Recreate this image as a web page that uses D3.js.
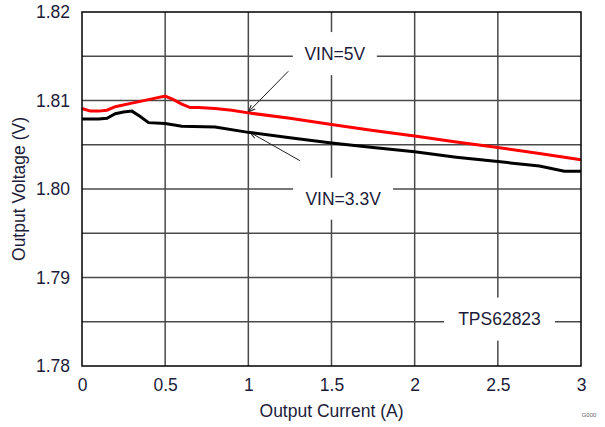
<!DOCTYPE html>
<html>
<head>
<meta charset="utf-8">
<script src="https://cdn.jsdelivr.net/npm/d3@7"></script>
<style>
  body { margin: 0; background: #fff; }
  text { font-family: "Liberation Sans", Arial, sans-serif; }
</style>
</head>
<body>
<div id="chart"></div>
<script>
// output current (A) and output voltage (V)
const currentRed = [0, 0.05, 0.1, 0.15, 0.2, 0.3, 0.4, 0.5, 0.55, 0.6, 0.65, 0.7, 0.8, 0.9, 1.0, 1.25, 1.5, 1.75, 2.0, 2.25, 2.5, 2.75, 3.0];
const vin5 = [1.8091, 1.8088, 1.8088, 1.8089, 1.8093, 1.8097, 1.8101, 1.8105, 1.8101, 1.8096, 1.8092, 1.8092, 1.8091, 1.8089, 1.8086, 1.8080, 1.8073, 1.8066, 1.8060, 1.8053, 1.8047, 1.8040, 1.8033];
const currentBlack = [0, 0.1, 0.15, 0.2, 0.25, 0.3, 0.35, 0.4, 0.5, 0.6, 0.8, 1.0, 1.25, 1.5, 1.75, 2.0, 2.25, 2.5, 2.75, 2.9, 3.0];
const vin33 = [1.8079, 1.8079, 1.8080, 1.8085, 1.8087, 1.8088, 1.8082, 1.8075, 1.8074, 1.8071, 1.8070, 1.8064, 1.8058, 1.8052, 1.8047, 1.8042, 1.8036, 1.8031, 1.8026, 1.8020, 1.8020];
const xTicks = [0, 0.5, 1, 1.5, 2, 2.5, 3];
const yTicks = [1.78, 1.79, 1.80, 1.81, 1.82];
const yGrid = [1.785, 1.79, 1.795, 1.80, 1.805, 1.81, 1.815];

const totalWidth = 605, totalHeight = 427;
const margin = {top: 12, right: 24, bottom: 61, left: 82};
const width = totalWidth - margin.left - margin.right,
      height = totalHeight - margin.top - margin.bottom;

const svg = d3.select('#chart').append('svg')
    .attr('width', totalWidth)
    .attr('height', totalHeight);
const g = svg.append('g')
    .attr('transform', `translate(${margin.left},${margin.top})`);

const x = d3.scaleLinear().domain([0, 3]).range([0, width]);
const y = d3.scaleLinear().domain([1.78, 1.82]).range([height, 0]);

// grid
g.append('g').selectAll('line.vg')
    .data(xTicks.slice(1, -1))
    .enter().append('line')
    .attr('x1', d => x(d)).attr('x2', d => x(d))
    .attr('y1', 0).attr('y2', height)
    .attr('stroke', '#4a4a4a').attr('stroke-width', 1.5);
g.append('g').selectAll('line.hg')
    .data(yGrid)
    .enter().append('line')
    .attr('x1', 0).attr('x2', width)
    .attr('y1', d => y(d)).attr('y2', d => y(d))
    .attr('stroke', '#4a4a4a').attr('stroke-width', 1.5);

// axes (labels only)
const xAxis = g.append('g')
    .attr('transform', `translate(0,${height})`)
    .call(d3.axisBottom(x).tickValues(xTicks).tickSize(0).tickPadding(13).tickFormat(d3.format('')));
const yAxis = g.append('g')
    .call(d3.axisLeft(y).tickValues(yTicks).tickSize(0).tickPadding(12).tickFormat(d3.format('.2f')));
[xAxis, yAxis].forEach(a => {
    a.select('.domain').remove();
    a.selectAll('text')
        .style('font-family', '"Liberation Sans", Arial, sans-serif')
        .style('font-size', '17.5px')
        .attr('fill', '#1c1c3a');
});

// annotation labels with white boxes that cut the grid
function boxLabel(cx, cy, bw, bh, txt) {
    g.append('rect')
        .attr('x', cx - bw / 2).attr('y', cy - bh / 2)
        .attr('width', bw).attr('height', bh)
        .attr('fill', '#fff');
    g.append('text')
        .attr('x', cx).attr('y', cy)
        .attr('dy', '0.36em')
        .attr('text-anchor', 'middle')
        .style('font-size', '17.5px')
        .attr('fill', '#1c1c3a')
        .text(txt);
}
boxLabel(x(1.52), y(1.8153), 84, 43, 'VIN=5V');
boxLabel(x(1.57), y(1.7989), 100, 42, 'VIN=3.3V');
boxLabel(x(2.51), y(1.7853), 111, 43, 'TPS62823');

// arrows
svg.append('defs').append('marker')
    .attr('id', 'arr')
    .attr('viewBox', '0 0 10 10')
    .attr('refX', 10).attr('refY', 5)
    .attr('markerWidth', 7).attr('markerHeight', 7)
    .attr('orient', 'auto')
    .append('path').attr('d', 'M0,1 L10,5 L0,9').attr('fill', 'none').attr('stroke', '#222').attr('stroke-width', 1.5);
g.append('line')
    .attr('x1', x(1.24)).attr('y1', y(1.8133))
    .attr('x2', x(1.0)).attr('y2', y(1.8087))
    .attr('stroke', '#222').attr('stroke-width', 1)
    .attr('marker-end', 'url(#arr)');
g.append('line')
    .attr('x1', x(1.31)).attr('y1', y(1.8032))
    .attr('x2', x(1.01)).attr('y2', y(1.8064))
    .attr('stroke', '#222').attr('stroke-width', 1)
    .attr('marker-end', 'url(#arr)');

// curves
const line = d3.line().x(d => x(d[0])).y(d => y(d[1]));
g.append('path')
    .datum(d3.zip(currentBlack, vin33))
    .attr('d', line)
    .attr('fill', 'none').attr('stroke', '#000').attr('stroke-width', 3);
g.append('path')
    .datum(d3.zip(currentRed, vin5))
    .attr('d', line)
    .attr('fill', 'none').attr('stroke', '#ff0000').attr('stroke-width', 3);

// frame
g.append('rect')
    .attr('width', width).attr('height', height)
    .attr('fill', 'none').attr('stroke', '#000').attr('stroke-width', 1.5);

// axis titles
svg.append('text')
    .attr('x', margin.left + x(1.5)).attr('y', 411)
    .attr('dy', '0.35em')
    .attr('text-anchor', 'middle')
    .style('font-size', '17.5px')
    .attr('fill', '#1c1c3a')
    .text('Output Current (A)');
svg.append('text')
    .attr('transform', `translate(19,${margin.top + height / 2}) rotate(-90)`)
    .attr('dy', '0.35em')
    .attr('text-anchor', 'middle')
    .style('font-size', '17.5px')
    .attr('fill', '#1c1c3a')
    .text('Output Voltage (V)');
svg.append('text')
    .attr('x', 589).attr('y', 415)
    .attr('dy', '0.35em')
    .attr('text-anchor', 'middle')
    .style('font-size', '6px')
    .attr('fill', '#666')
    .text('G000');
</script>
</body>
</html>
